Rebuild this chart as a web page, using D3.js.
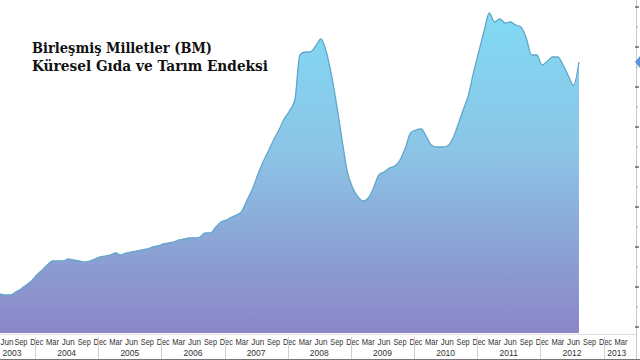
<!DOCTYPE html>
<html>
<head>
<meta charset="utf-8">
<script src="https://cdn.jsdelivr.net/npm/d3@7"></script>
<style>
  html, body { margin: 0; padding: 0; background: #fff; }
  svg { display: block; }
</style>
</head>
<body>
<svg id="chart"></svg>
<script>
// monthly index values, Apr 2003 .. Jul 2012
const firstYear = 2003;
const firstMonth = 3; // April (0-based)
const values = [
  76.5, 76.5, 76, 76, 77.5, 79, 81, 83, 86,                          // 2003 Apr-Dec
  88.5, 91, 93, 93, 93, 94, 93.5, 93, 92.5, 93, 94, 95,              // 2004
  95.5, 96, 97, 96, 97, 97.5, 98, 98.5, 99, 100, 100.5, 101.5,       // 2005
  102, 102.5, 103.5, 104, 104.5, 104.5, 105, 107, 107, 110, 112.5, 113.5, // 2006
  115, 116, 118, 123.5, 129, 136, 142.5, 148, 153.5, 158.5, 164, 168, // 2007
  173.5, 196, 197.5, 197.5, 200.5, 204, 197.5, 185.5, 170.5, 153, 137.5, 129.5, // 2008
  125, 123, 124.5, 129.5, 136, 137.5, 139.5, 140.5, 143.5, 149.5, 157, 158.5, // 2009
  159, 155.5, 151, 150, 150, 150.5, 154, 161, 168.5, 176, 187.5, 198, // 2010
  208.5, 217, 212.5, 214, 212, 212.5, 211, 210, 204.5, 196, 196, 191, // 2011
  193, 195, 195, 191, 185.5, 181, 192.5                               // 2012 Jan-Jul
];

const quarterMonths = [2, 5, 8, 11];
const monthLabels = ['Mar', 'Jun', 'Sep', 'Dec'];
const yearLabels = ['2003', '2004', '2005', '2006', '2007', '2008', '2009', '2010', '2011', '2012', '2013'];
const yTicks = [60, 80, 100, 120, 140, 160, 180, 200, 220];
const titleLines = ['Birleşmiş Milletler (BM)', 'Küresel Gıda ve Tarım Endeksi'];

const monthEnd = (y, m) => new Date(y, m + 1, 0);

const data = values.map((v, i) => {
  let m = firstMonth + i;
  return { date: monthEnd(firstYear + Math.floor(m / 12), m % 12), value: v };
});

const width = 640, height = 360;
const axisRight = 636;

const svg = d3.select('#chart')
  .attr('width', width)
  .attr('height', height);

const xScale = d3.scaleTime()
  .domain([monthEnd(2003, 5), monthEnd(2013, 2)])
  .range([5, 621]);

const yScale = d3.scaleLinear()
  .domain([57, 220])
  .range([333, 7]);

// gradient fill
const defs = svg.append('defs');
const grad = defs.append('linearGradient')
  .attr('id', 'fillGrad')
  .attr('gradientUnits', 'userSpaceOnUse')
  .attr('x1', 0).attr('x2', 0)
  .attr('y1', yScale(220)).attr('y2', yScale(57));
grad.append('stop').attr('offset', 0).attr('stop-color', '#80dbf4');
grad.append('stop').attr('offset', 0.45).attr('stop-color', '#8cc4e6');
grad.append('stop').attr('offset', 1).attr('stop-color', '#8b85c6');

const area = d3.area()
  .x(d => xScale(d.date))
  .y0(yScale(57))
  .y1(d => yScale(d.value))
  .curve(d3.curveMonotoneX);

const line = d3.line()
  .x(d => xScale(d.date))
  .y(d => yScale(d.value))
  .curve(d3.curveMonotoneX);

svg.append('path')
  .datum(data)
  .attr('d', area)
  .attr('fill', 'url(#fillGrad)');

svg.append('path')
  .datum(data)
  .attr('d', line)
  .attr('fill', 'none')
  .attr('stroke', '#62a6ca')
  .attr('stroke-width', 1.3);

// title
svg.append('g')
  .selectAll('text')
  .data(titleLines)
  .join('text')
    .attr('x', 32)
    .attr('y', (d, i) => 53 + i * 18)
    .attr('textLength', (d, i) => i === 0 ? 180 : 236)
    .attr('lengthAdjust', 'spacingAndGlyphs')
    .style('font-family', '"DejaVu Serif", serif')
    .style('font-weight', 'bold')
    .style('font-size', '15px')
    .style('fill', '#111')
    .text(d => d);

// right axis
const yAxis = svg.append('g');
yAxis.append('line')
  .attr('x1', axisRight + 0.5).attr('x2', axisRight + 0.5)
  .attr('y1', 0).attr('y2', height)
  .attr('stroke', '#c8c8c8');
yAxis.selectAll('.minor')
  .data(yTicks.slice(0, -1))
  .join('line')
    .attr('class', 'minor')
    .attr('x1', axisRight).attr('x2', axisRight + 2)
    .attr('y1', d => yScale(d + 10)).attr('y2', d => yScale(d + 10))
    .attr('stroke', '#aaa');
yAxis.selectAll('.major')
  .data(yTicks)
  .join('line')
    .attr('class', 'major')
    .attr('x1', axisRight - 1).attr('x2', axisRight + 3)
    .attr('y1', d => yScale(d)).attr('y2', d => yScale(d))
    .attr('stroke', '#444')
    .attr('stroke-width', 1.2);

// marker for the last value
const last = data[data.length - 1];
const ly = yScale(last.value);
svg.append('path')
  .attr('d', `M${axisRight - 1},${ly} L${axisRight + 4},${ly - 6} L${width},${ly - 6} L${width},${ly + 6} L${axisRight + 4},${ly + 6} Z`)
  .attr('fill', '#5793d6');

// bottom axis
const xAxis = svg.append('g');
xAxis.append('rect')
  .attr('x', 0).attr('y', 334)
  .attr('width', axisRight).attr('height', height - 334)
  .attr('fill', '#fff');
xAxis.append('line')
  .attr('x1', 0).attr('x2', axisRight)
  .attr('y1', 334.5).attr('y2', 334.5)
  .attr('stroke', '#ddd');
xAxis.append('line')
  .attr('x1', 0).attr('x2', width)
  .attr('y1', 359.5).attr('y2', 359.5)
  .attr('stroke', '#777');

let quarters = [];
yearLabels.forEach(y => {
  quarterMonths.forEach((m, i) => {
    let d = monthEnd(+y, m);
    if (d >= xScale.domain()[0] && d <= xScale.domain()[1]) quarters.push({ date: d, label: monthLabels[i] });
  });
});

xAxis.selectAll('.month')
  .data(quarters)
  .join('text')
    .attr('class', 'month')
    .attr('x', (d, i) => i === 0 ? Math.max(xScale(d.date), 7) : xScale(d.date))
    .attr('y', 345)
    .attr('text-anchor', 'middle')
    .attr('textLength', 13)
    .attr('lengthAdjust', 'spacingAndGlyphs')
    .style('font-family', '"Liberation Sans", sans-serif')
    .style('font-size', '8.5px')
    .style('fill', '#333')
    .text(d => d.label);

const seps = yearLabels.slice(1).map(y => xScale(new Date(+y, 0, 1)) - 2);

xAxis.selectAll('.sep')
  .data(seps)
  .join('line')
    .attr('class', 'sep')
    .attr('x1', d => Math.round(d) + 0.5).attr('x2', d => Math.round(d) + 0.5)
    .attr('y1', 337).attr('y2', 359)
    .attr('stroke', '#cfcfcf');

xAxis.selectAll('.year')
  .data(yearLabels)
  .join('text')
    .attr('class', 'year')
    .attr('x', (d, i) => {
      let a = i === 0 ? -20 : seps[i - 1];
      let b = i === seps.length ? 630 : seps[i];
      return Math.max((a + b) / 2, 12);
    })
    .attr('y', 356)
    .attr('text-anchor', 'middle')
    .style('font-family', '"Liberation Sans", sans-serif')
    .style('font-size', '8.5px')
    .style('fill', '#333')
    .text(d => d);
</script>
</body>
</html>
